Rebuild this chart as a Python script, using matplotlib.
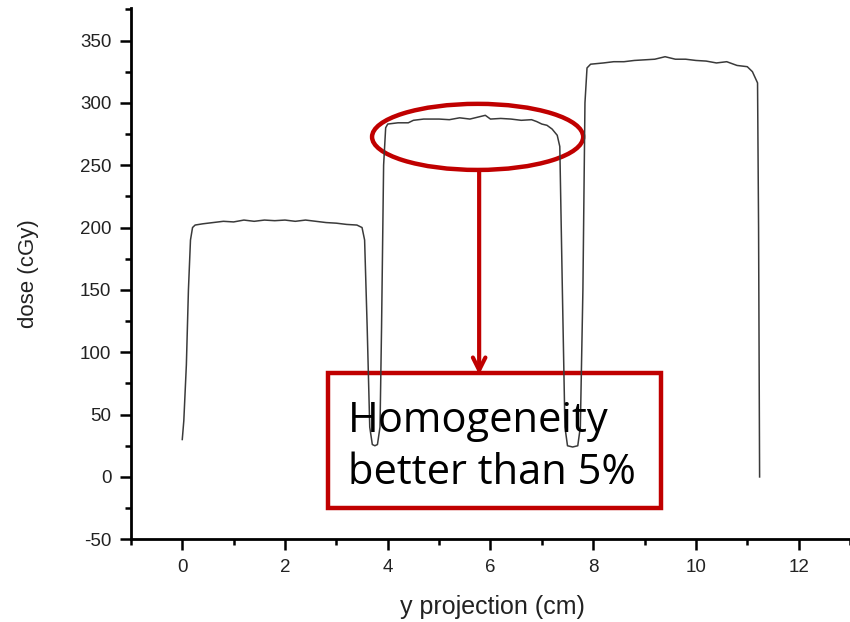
import matplotlib
matplotlib.use('Agg')
import matplotlib.pyplot as plt
from matplotlib.patches import Ellipse, Rectangle
from matplotlib.ticker import MultipleLocator

plt.rcParams['axes.unicode_minus'] = False  # hyphen for -50

# dose profile
y_proj = [0.0, 0.03, 0.08, 0.12, 0.16, 0.2, 0.25, 0.4, 0.6, 0.8, 1.0, 1.2, 1.4, 1.6, 1.8, 2.0, 2.2, 2.4, 2.6, 2.8,
          3.0, 3.2, 3.4, 3.5, 3.55, 3.6, 3.65, 3.7, 3.75, 3.8, 3.85, 3.88, 3.92, 3.96,
          4.0, 4.2, 4.4, 4.5, 4.7, 5.0, 5.2, 5.4, 5.6, 5.8, 5.9, 6.0, 6.2, 6.4, 6.6, 6.8, 6.9, 7.0, 7.1, 7.2, 7.3,
          7.35, 7.4, 7.45, 7.5, 7.6, 7.7, 7.75, 7.8, 7.84, 7.88, 7.95,
          8.2, 8.4, 8.6, 8.8, 9.0, 9.2, 9.4, 9.6, 9.8, 10.0, 10.2, 10.4, 10.6, 10.8, 11.0, 11.1, 11.2, 11.22, 11.24]
dose = [30, 45, 90, 150, 190, 200, 202, 203, 204, 205, 204.5, 206, 205, 206, 205.5, 206, 205, 206, 205, 204,
        203.5, 202.5, 202, 200, 190, 120, 40, 26, 25, 26, 40, 120, 250, 280,
        283, 284, 284, 286, 287, 287, 286.5, 288, 287, 289, 290, 287, 287.5, 287, 286, 286.5, 285, 283, 282, 279, 274,
        265, 150, 40, 25, 24, 25, 40, 150, 300, 328, 331,
        332, 333, 333, 334, 334.5, 335, 337, 335, 335, 334, 333.5, 332, 333, 330, 329, 325, 316, 200, 0]

note_text = 'Homogeneity\nbetter than 5%'
red = '#C00000'

fig = plt.figure(figsize=(8.5, 6.22), dpi=100)
ax = fig.add_axes([0.154, 0.133, 0.846, 0.854])

ax.plot(y_proj, dose, color='#3a3a3a', lw=1.1)

ax.set_xlim(-1, 13)
ax.set_ylim(-50, 376)
ax.xaxis.set_major_locator(MultipleLocator(2))
ax.xaxis.set_minor_locator(MultipleLocator(1))
ax.yaxis.set_major_locator(MultipleLocator(50))
ax.yaxis.set_minor_locator(MultipleLocator(25))
ax.spines['top'].set_visible(False)
ax.spines['right'].set_visible(False)
ax.spines['left'].set_linewidth(2)
ax.spines['bottom'].set_linewidth(2)
ax.tick_params(which='major', direction='out', length=8, width=1.8, labelsize=13.5, labelcolor='#222222', pad=6)
ax.tick_params(which='minor', direction='out', length=4, width=1.8)
for lab in ax.get_xticklabels() + ax.get_yticklabels():
    lab.set_family('Liberation Sans')

ax.set_xlabel('y projection (cm)', fontsize=18, family='Liberation Sans', color='#222222', va='center')
ax.set_ylabel('dose (cGy)', fontsize=16, family='Liberation Sans', color='#222222', va='center')
ax.xaxis.set_label_coords(0.503, -0.128)
ax.yaxis.set_label_coords(-0.143, 0.5)

# annotation: ellipse, arrow and box
ax.add_patch(Ellipse((5.75, 272.7), 4.11, 53, fill=False, ec=red, lw=3.2, clip_on=False))
ax.annotate('', xy=(5.78, 82), xytext=(5.78, 246),
            arrowprops=dict(arrowstyle='->,head_length=0.9,head_width=0.45', color=red, lw=3, shrinkA=0, shrinkB=0))
ax.add_patch(Rectangle((2.83, -25), 6.5, 108.5, fill=False, ec=red, lw=3.2, clip_on=False))
ax.text(3.22, -5.6, note_text, fontsize=30, family='Open Sans', color='black', va='baseline', ha='left',
        linespacing=1.3)

plt.savefig('out.png', dpi=100)
